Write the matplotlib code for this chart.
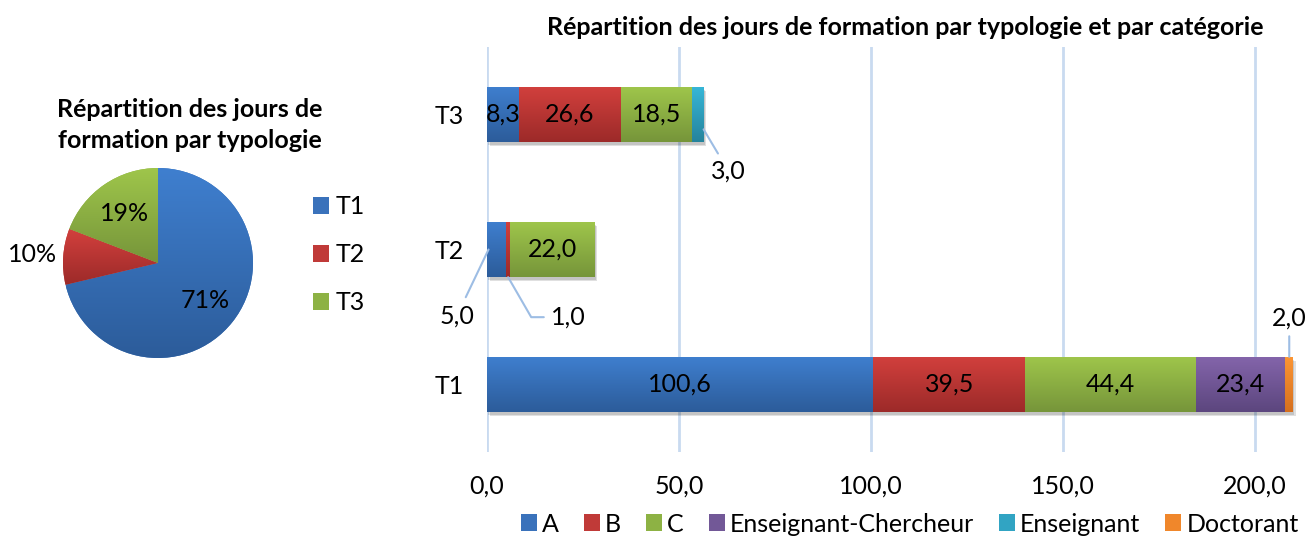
import numpy as np
import matplotlib.pyplot as plt
import matplotlib.patheffects as pe
from matplotlib.colors import LinearSegmentedColormap
from matplotlib.patches import Patch

plt.rcParams['font.family'] = ['Lato', 'DejaVu Sans']

# Training days by typology (rows) and staff category (series)
typologies = ['T1', 'T2', 'T3']
categories = ['A', 'B', 'C', 'Enseignant-Chercheur', 'Enseignant', 'Doctorant']
days = {
    'A':                    [100.6, 5.0, 8.3],
    'B':                    [39.5, 1.0, 26.6],
    'C':                    [44.4, 22.0, 18.5],
    'Enseignant-Chercheur': [23.4, 0.0, 0.0],
    'Enseignant':           [0.0, 0.0, 3.0],
    'Doctorant':            [2.0, 0.0, 0.0],
}
x_ticks = [0, 50, 100, 150, 200]

# (top colour, bottom colour) for the vertical gradients
shades = {
    'A':                    ('#3f7fcf', '#2c5c9a'),
    'B':                    ('#d2403d', '#9c2a29'),
    'C':                    ('#9fc64b', '#76953a'),
    'Enseignant-Chercheur': ('#8465ab', '#5c467e'),
    'Enseignant':           ('#37b7d8', '#25839c'),
    'Doctorant':            ('#fc9634', '#d6701e'),
}
flat = {'A': '#3a72bb', 'B': '#c03a38', 'C': '#8db244',
        'Enseignant-Chercheur': '#725897', 'Enseignant': '#31a4c3', 'Doctorant': '#f0872b'}
pie_shades = [shades['A'], shades['B'], shades['C']]
pie_flat = [flat['A'], flat['B'], flat['C']]

FS = 18


def fmt(v):
    return f'{v:.1f}'.replace('.', ',')


def gradient_fill(ax, patch, top, bottom):
    """Paint a patch with a vertical gradient clipped to its outline."""
    bb = patch.get_window_extent()
    (x0, y0), (x1, y1) = ax.transData.inverted().transform([[bb.x0, bb.y0], [bb.x1, bb.y1]])
    cmap = LinearSegmentedColormap.from_list('g', [bottom, top])
    grad = np.linspace(0, 1, 128).reshape(-1, 1)
    im = ax.imshow(grad, cmap=cmap, extent=[x0, x1, y0, y1], origin='lower',
                   aspect='auto', zorder=patch.get_zorder(), interpolation='bilinear')
    im.set_clip_path(patch)


W, H = 1315, 538
fig = plt.figure(figsize=(W / 100, H / 100), dpi=100)

# ---- stacked horizontal bars ----
ax = fig.add_axes([487 / W, (H - 452) / H, 813 / W, 405 / H])
xmax = 211.7
ax.set_xlim(0, xmax)
ax.set_ylim(-0.5, 2.5)
ypos = np.arange(len(typologies))
bar_h = 0.41

left = np.zeros(len(typologies))
segments = []
for cat in categories:
    vals = np.array(days[cat])
    bars = ax.barh(ypos, vals, left=left, height=bar_h, color=flat[cat], zorder=3,
                   linewidth=0)
    for b, v, l, y in zip(bars, vals, left, ypos):
        if v > 0:
            segments.append((b, cat, v, l, y))
    left = left + vals

# soft shadow under each full bar
for y, total in zip(ypos, left):
    r = plt.Rectangle((0, y - bar_h / 2), total, bar_h, facecolor='white', zorder=2,
                      linewidth=0)
    ax.add_patch(r)
    r.set_path_effects([pe.SimplePatchShadow(offset=(2, -3), shadow_rgbFace='#000000', alpha=0.12),
                        pe.SimplePatchShadow(offset=(1, -2), shadow_rgbFace='#000000', alpha=0.12),
                        pe.Normal()])

for b, cat, v, l, y in segments:
    gradient_fill(ax, b, *shades[cat])

ax.set_xlim(0, xmax)
ax.set_ylim(-0.5, 2.5)

# value labels: inside the wide segments, with leader lines for the thin ones
line_kw = dict(arrowstyle='-', color='#9dbde4', lw=1.5, shrinkA=3, shrinkB=0)
for b, cat, v, l, y in segments:
    label = fmt(v)
    if v >= 8:
        ax.text(l + v / 2, y, label, ha='center', va='center', fontsize=FS, zorder=5)
    elif y == 2:
        ax.annotate(label, xy=(l + v, y - 0.11), xytext=(25, -42), textcoords='offset pixels',
                    ha='center', va='center', fontsize=FS, arrowprops=line_kw)
    elif y == 1 and cat == 'A':
        ax.annotate(label, xy=(l + 0.4, y), xytext=(-32, -67), textcoords='offset pixels',
                    ha='center', va='center', fontsize=FS,
                    arrowprops=dict(line_kw, shrinkA=4))
    elif y == 1:
        ax.annotate(label, xy=(l + v / 2, y - bar_h / 2), xytext=(60, -40),
                    textcoords='offset pixels', ha='center', va='center', fontsize=FS,
                    arrowprops=dict(line_kw, connectionstyle='angle,angleA=0,angleB=120,rad=0',
                                    shrinkA=3))
    else:
        ax.annotate(label, xy=(l + v / 2, y + bar_h / 2), xytext=(0, 39),
                    textcoords='offset pixels', ha='center', va='center', fontsize=FS,
                    arrowprops=dict(line_kw, shrinkA=3))

ax.set_xticks(x_ticks)
ax.set_xticklabels([fmt(t) for t in x_ticks], fontsize=FS)
ax.set_yticks(ypos)
ax.set_yticklabels(typologies, fontsize=FS)
ax.tick_params(length=0)
ax.tick_params(axis='x', pad=16)
ax.tick_params(axis='y', pad=17)
ax.grid(axis='x', color='#c9daf0', lw=2, zorder=0)
for s in ax.spines.values():
    s.set_visible(False)
fig.text(905 / W, 1 - 28 / H, 'Répartition des jours de formation par typologie et par catégorie',
         ha='center', va='center', fontsize=FS, fontweight='bold')

handles = [Patch(facecolor=flat[c], edgecolor='none') for c in categories]
fig.legend(handles, categories, loc='center', bbox_to_anchor=(910 / W, 1 - 524 / H), ncol=6,
           frameon=False, fontsize=FS, handlelength=0.64, handleheight=0.64,
           handletextpad=0.2, columnspacing=1.0)

# ---- pie by typology ----
totals = [sum(days[c][i] for c in categories) for i in range(len(typologies))]
pax = fig.add_axes([63 / W, (H - 358) / H, 190 / W, 190 / H])
wedges, _ = pax.pie(totals, colors=pie_flat, startangle=90, counterclock=False, radius=1,
                    wedgeprops=dict(linewidth=0))
pax.set_xlim(-1, 1)
pax.set_ylim(-1, 1)
pax.set_aspect('equal')
for w, (top, bot) in zip(wedges, pie_shades):
    gradient_fill(pax, w, top, bot)
pax.set_xlim(-1, 1)
pax.set_ylim(-1, 1)
pax.set_aspect('equal')
pax.axis('off')

share = np.array(totals) / sum(totals)
for w, p, name in zip(wedges, share, typologies):
    mid = np.deg2rad((w.theta1 + w.theta2) / 2)
    r = 1.32 if name == 'T2' else 0.63
    pax.text(r * np.cos(mid), r * np.sin(mid), f'{p * 100:.0f}%', ha='center', va='center',
             fontsize=FS, zorder=5)

fig.text(190 / W, 1 - 125 / H, 'Répartition des jours de\nformation par typologie',
         ha='center', va='center', fontsize=FS, fontweight='bold', linespacing=1.45)
fig.legend([Patch(facecolor=c, edgecolor='none') for c in pie_flat], typologies,
           loc='center left', bbox_to_anchor=(290 / W, 1 - 255 / H), frameon=False,
           fontsize=FS, handlelength=0.64, handleheight=0.64, handletextpad=0.3,
           labelspacing=1.0)

fig.savefig('out.png', dpi=100)
